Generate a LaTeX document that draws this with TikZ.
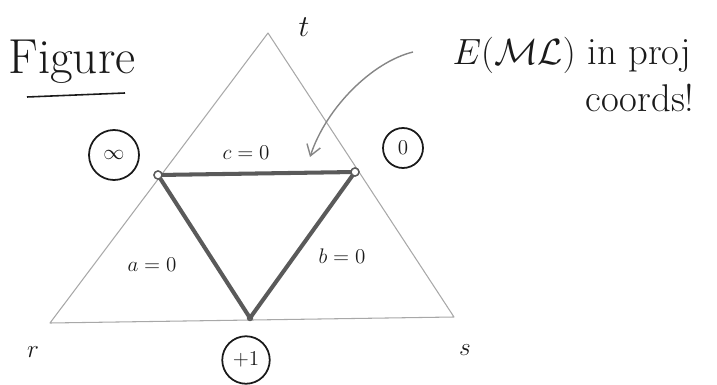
\documentclass[tikz,border=0pt]{standalone}
\usepackage{amsmath,amssymb}
\usepackage{tikz}
\usetikzlibrary{arrows.meta,positioning,calc}
\definecolor{ink}{HTML}{1A1A1A}
\definecolor{pencil}{HTML}{A8A8A8}
\definecolor{lead}{HTML}{5A5A5A}

\begin{document}
\begin{tikzpicture}[x=0.02cm,y=-0.02cm,
    every node/.style={text=ink},
    outer/.style={draw=pencil,line width=0.6pt,line join=round},
    inner/.style={draw=lead,line width=2.3pt,line join=round},
    corner/.style={circle,draw=lead,line width=0.8pt,inner sep=1.6pt,fill=white},
    ringed/.style={circle,draw=ink,line width=1pt,minimum size=0.9cm,inner sep=0pt,font=\large}]
    \useasboundingbox (0,0) rectangle (717,385);
    % outer triangle
    \coordinate (vr) at (50,323);
    \coordinate (vs) at (454,317);
    \coordinate (vt) at (268,33);
    \draw[outer] (vr) -- (vs) -- (vt) -- cycle;
    % the triangle E(ML)
    \node[corner] (pinf) at (158,175) {};
    \node[corner] (pzero) at (355,172) {};
    \node[corner,inner sep=1pt] (pone) at (250,318) {};
    \draw[inner] (pinf.center) -- (pzero.center) -- (pone.center) -- cycle;
    \node[corner] at (pinf) {};
    \node[corner] at (pzero) {};
    % vertex names
    \node[font=\Large] (lr) at (33,352) {$r$};
    \node[font=\Large] (ls) at (465,350) {$s$};
    \node[font=\LARGE] (lt) at (304,27) {$t$};
    % line names
    \node[font=\large] (lc) at (246,153) {$c=0$};
    \node[font=\large] (la) at (152,265) {$a=0$};
    \node[font=\large] (lb) at (342,256) {$b=0$};
    % points
    \node[ringed,minimum size=1cm] (cinf) at (114,155) {$\infty$};
    \node[ringed,minimum size=0.8cm] (czero) at (403,148) {$0$};
    \node[ringed,minimum size=0.95cm] (cone) at (246,360) {$+1$};
    % title and note
    \node[font=\fontsize{28}{32}\selectfont] (title) at (72,62) {Figure};
    \coordinate (ulA) at (27,97);
    \coordinate (ulB) at (125,93);
    \draw[ink,line width=0.9pt] (ulA) -- (ulB);
    \node[font=\fontsize{22}{26}\selectfont] (note) at (572,55) {$E(\mathcal{ML})$ in proj};
    \node[font=\fontsize{22}{26}\selectfont] (note2) at (640,98) {coords!};
    \coordinate (tail) at (413,52);
    \coordinate (tip) at (310,157);
    \draw[pencil!80!black,line width=0.8pt,-{Straight Barb[length=6pt,width=8pt]}]
        (tail) .. controls (372,62) and (326,108) .. (tip);
\end{tikzpicture}
\end{document}
